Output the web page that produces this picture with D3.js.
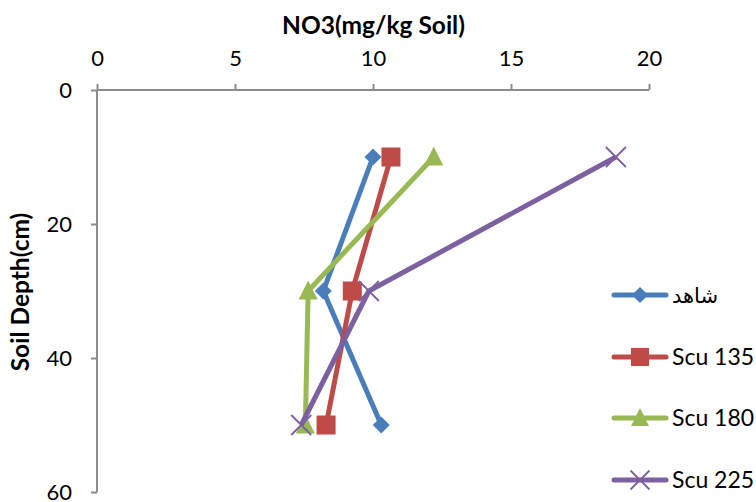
<!DOCTYPE html>
<html><head><meta charset="utf-8">
<script src="https://cdn.jsdelivr.net/npm/d3@7"></script>
<style>body{margin:0;background:#fff;} svg{display:block;font-family:Lato,"Open Sans",sans-serif;}</style>
</head><body>
<svg id="c" width="756" height="502"></svg>
<script>
const depths = [10, 30, 50];
const seriesNames = ["شاهد", "Scu 135", "Scu 180", "Scu 225"];
const shahed = [10.0, 8.2, 10.3];
const scu135 = [10.65, 9.25, 8.3];
const scu180 = [12.2, 7.65, 7.55];
const scu225 = [18.8, 9.85, 7.4];
const xTicks = [0, 5, 10, 15, 20];
const yTicks = [0, 20, 40, 60];
const colors = ["#4a7ebb", "#be4b48", "#98b954", "#7d60a0"];
const symbols = ["diamond", "square", "triangle", "x"];
const allValues = [shahed, scu135, scu180, scu225];

const svg = d3.select("#c");
const x = d3.scaleLinear().domain([0, 20]).range([97, 649]);
const y = d3.scaleLinear().domain([0, 60]).range([90, 492]);

// axes
const xAxis = d3.axisTop(x).tickValues(xTicks).tickSize(6).tickPadding(18);
const gx = svg.append("g").attr("transform", "translate(0,90)").call(xAxis);
const yAxis = d3.axisLeft(y).tickValues(yTicks).tickSize(6).tickPadding(19);
const gy = svg.append("g").attr("transform", "translate(97,0)").call(yAxis);
[gx, gy].forEach(g => {
  g.select(".domain").attr("stroke", "#8c8c8c").attr("stroke-width", 2);
  g.selectAll(".tick line").attr("stroke", "#8c8c8c").attr("stroke-width", 2);
  g.selectAll(".tick text").attr("fill", "#000").style("font-size", "22px").style("font-family", "Lato, 'Open Sans', sans-serif");
});
gx.select(".domain").attr("d", `M${x(0)},0H${x(20)}`);
gy.select(".domain").attr("d", `M0,${y(0)}V${y(60)}`);

// titles
svg.append("text").attr("x", 373.5).attr("y", 34).attr("text-anchor", "middle")
  .style("font-size", "24.5px").style("font-weight", "bold").text("NO3(mg/kg Soil)");
svg.append("text").attr("transform", "translate(29,292) rotate(-90)").attr("text-anchor", "middle")
  .style("font-size", "24.5px").style("font-weight", "bold").text("Soil Depth(cm)");

function drawMarker(g, type, cx, cy, color, s) {
  if (type === "diamond") {
    g.append("path").attr("d", `M${cx},${cy-8.5*s}L${cx+8.5*s},${cy}L${cx},${cy+8.5*s}L${cx-8.5*s},${cy}Z`).attr("fill", color);
  } else if (type === "square") {
    g.append("rect").attr("x", cx-9.5*s).attr("y", cy-9.5*s).attr("width", 19*s).attr("height", 19*s).attr("fill", color);
  } else if (type === "triangle") {
    g.append("path").attr("d", `M${cx},${cy-10.5*s}L${cx+9.5*s},${cy+8.5*s}L${cx-9.5*s},${cy+8.5*s}Z`).attr("fill", color);
  } else {
    g.append("path").attr("d", `M${cx-10*s},${cy-10*s}L${cx+10*s},${cy+10*s}M${cx-10*s},${cy+10*s}L${cx+10*s},${cy-10*s}`)
      .attr("stroke", color).attr("stroke-width", 1.8).attr("fill", "none");
  }
}

const line = d3.line().x(d => x(d[0])).y(d => y(d[1]));
allValues.forEach((vals, i) => {
  const pts = vals.map((v, j) => [v, depths[j]]);
  const g = svg.append("g");
  g.append("path").attr("d", line(pts)).attr("fill", "none")
    .attr("stroke", colors[i]).attr("stroke-width", 5).attr("stroke-linejoin", "round");
  pts.forEach(p => drawMarker(g, symbols[i], x(p[0]), y(p[1]), colors[i], 1));
});

// legend
const legY = [295, 357, 418, 480];
seriesNames.forEach((name, i) => {
  const g = svg.append("g");
  g.append("line").attr("x1", 614).attr("x2", 666).attr("y1", legY[i]).attr("y2", legY[i])
    .attr("stroke", colors[i]).attr("stroke-width", 5).attr("stroke-linecap", "round");
  drawMarker(g, symbols[i], 640, legY[i], colors[i], 0.95);
  g.append("text").attr("x", 672).attr("y", legY[i] + 8).style("font-size", i === 0 ? "21px" : "23px")
    .attr("direction", i === 0 ? "ltr" : null)
    .style("font-family", i === 0 ? "'DejaVu Sans', sans-serif" : "Lato, 'Open Sans', sans-serif")
    .text(name);
});
</script>
</body></html>
